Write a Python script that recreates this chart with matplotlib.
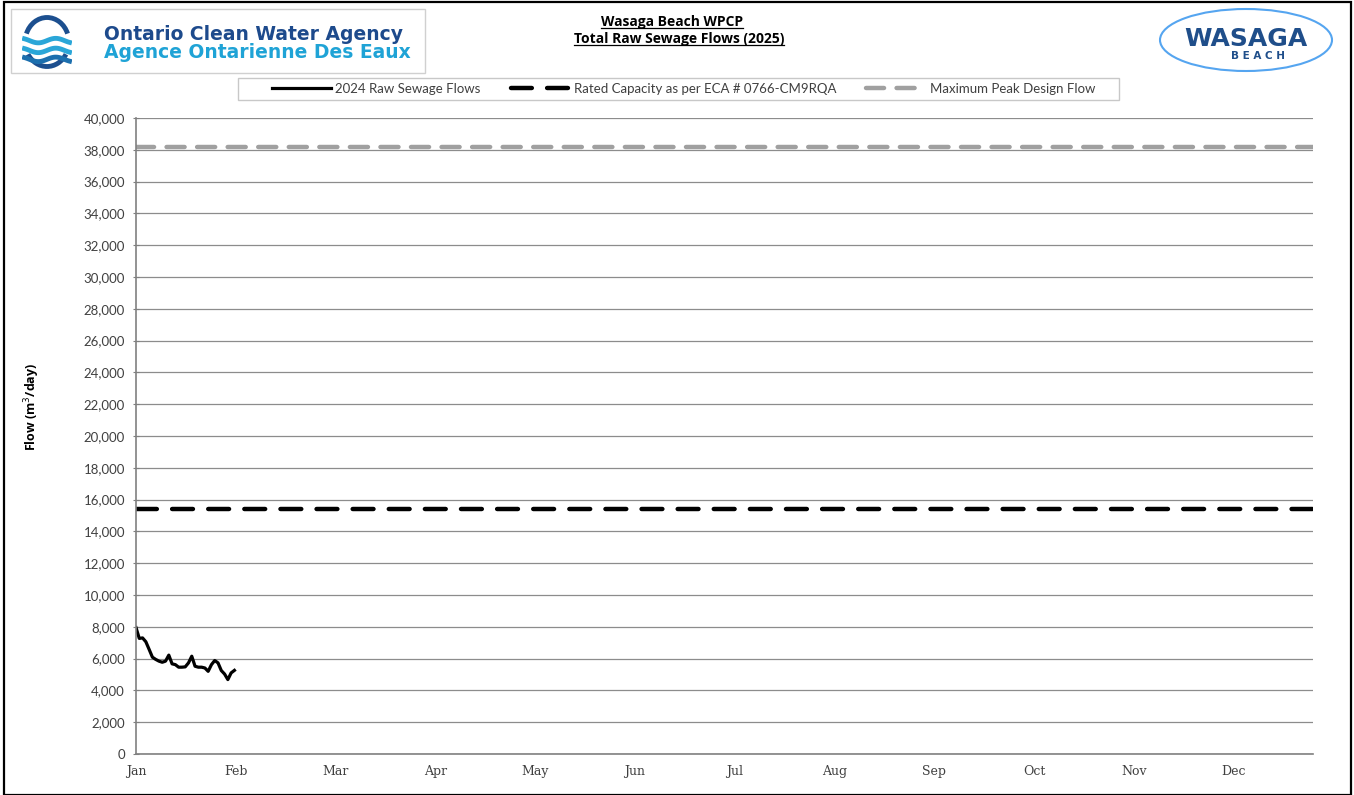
import numpy as np
import matplotlib
matplotlib.use("Agg")
import matplotlib.pyplot as plt
from matplotlib.patches import Rectangle, Ellipse, Arc
from matplotlib.lines import Line2D

# daily raw sewage flows, Jan 1 - Jan 31 (m3/day)
days = list(range(31))
flows = [7950, 7270, 7300, 7060, 6580, 6090, 5950, 5840, 5770, 5840,
         6220, 5670, 5620, 5460, 5460, 5480, 5730, 6150, 5520, 5460,
         5460, 5410, 5200, 5620, 5880, 5730, 5250, 5030, 4680, 5100, 5260]
rated_capacity = 15400
peak_design = 38200
months = ['Jan', 'Feb', 'Mar', 'Apr', 'May', 'Jun',
          'Jul', 'Aug', 'Sep', 'Oct', 'Nov', 'Dec']
month_step = 30.42
x_end = 358.8

plt.rcParams['lines.scale_dashes'] = False
W, H = 1354, 795
fig = plt.figure(figsize=(W / 100, H / 100), dpi=100)


def fx(px):
    return px / W


def fy(py):
    return 1 - py / H


ax = fig.add_axes([fx(136), fy(754), fx(1313) - fx(136), fy(118) - fy(754)])

line_flow, = ax.plot(days, flows, color='black', lw=2.3, solid_joinstyle='round',
                     label='2024 Raw Sewage Flows')
line_rated = ax.axhline(rated_capacity, color='black', lw=3.2, dash_capstyle='round',
                        linestyle=(0, (15, 11)),
                        label='Rated Capacity as per ECA # 0766-CM9RQA')
line_peak = ax.axhline(peak_design, color='#a0a0a0', lw=3.2, dash_capstyle='round',
                       linestyle=(0, (13, 9)),
                       label='Maximum Peak Design Flow')

ax.set_xlim(0, x_end)
ax.set_ylim(0, 40000)
ax.set_yticks(np.arange(0, 40001, 2000))
ax.set_yticklabels(['{:,}'.format(v) for v in range(0, 40001, 2000)],
                   family='Lato', fontsize=9.5, color='#404040')
ax.set_xticks([i * month_step for i in range(12)])
ax.set_xticklabels(months, family='DejaVu Serif', fontsize=9, color='#404040')
ax.tick_params(axis='x', length=0, pad=8)
ax.tick_params(axis='y', length=4, direction='inout', color='#808080', pad=6)
ax.grid(axis='y', color='#8c8c8c', lw=0.9)
ax.set_axisbelow(True)
for s in ['top', 'right']:
    ax.spines[s].set_visible(False)
for s in ['left', 'bottom']:
    ax.spines[s].set_color('#808080')
    ax.spines[s].set_linewidth(1.2)

ax.set_ylabel('Flow (m$^3$/day)', fontsize=9, fontweight='bold', family='Open Sans')
ax.yaxis.set_label_coords(-0.0799, 0.546)

# legend: frame drawn separately, entries spread inside it
fig.patches.append(Rectangle((fx(238), fy(100)), fx(1119) - fx(238), fy(78) - fy(100),
                             transform=fig.transFigure, fill=False, ec='#c8c8c8', lw=1))
leg = fig.legend(handles=[line_flow, line_rated, line_peak], ncol=3,
                 loc='center', mode='expand',
                 bbox_to_anchor=(fx(272), fy(89), fx(1095) - fx(272), 0),
                 frameon=False, handlelength=4.5,
                 prop={'family': 'Lato', 'size': 9.5},
                 borderpad=0, borderaxespad=0, columnspacing=1.0, handletextpad=0.3)
for t in leg.get_texts():
    t.set_color('#404040')

# title with underline
t1 = fig.text(fx(672), fy(22), 'Wasaga Beach WPCP', ha='center', va='center',
              fontsize=10, fontweight='bold', family='Open Sans')
t2 = fig.text(fx(679), fy(39), 'Total Raw Sewage Flows (2025)', ha='center', va='center',
              fontsize=10, fontweight='bold', family='Open Sans')
fig.canvas.draw()
r = fig.canvas.get_renderer()
for t in (t1, t2):
    bb = t.get_window_extent(r).transformed(fig.transFigure.inverted())
    fig.lines.append(Line2D([bb.x0, bb.x1], [bb.y0 + 0.001, bb.y0 + 0.001],
                            transform=fig.transFigure, color='black', lw=0.9))

# outer border
fig.patches.append(Rectangle((fx(4), fy(795)), fx(1351) - fx(4), fy(2) - fy(795),
                             transform=fig.transFigure, fill=False, ec='black', lw=1.6))

# OCWA logo
fig.patches.append(Rectangle((fx(11), fy(73)), fx(425) - fx(11), fy(9) - fy(73),
                             transform=fig.transFigure, fill=False, ec='#d0d0d0', lw=1))
lax = fig.add_axes([fx(22), fy(70), fx(72) - fx(22), fy(14) - fy(70)])
lax.set_xlim(-1, 1)
lax.set_ylim(-1, 1)
lax.axis('off')
lax.add_patch(Arc((0, 0), 1.75, 1.75, theta1=20, theta2=160, color='#1c4f8f', lw=3.5))
lax.add_patch(Arc((0, 0), 1.75, 1.75, theta1=210, theta2=330, color='#1c4f8f', lw=3.5))
wx = np.linspace(-0.9, 0.9, 60)
for off, c in [(0.05, '#2aa6d8'), (-0.3, '#2aa6d8'), (-0.62, '#1c6fae')]:
    lax.plot(wx, off + 0.08 * np.sin(wx * 4.5), color=c, lw=3.5)
fig.text(fx(104), fy(34), 'Ontario Clean Water Agency', fontsize=13.5, fontweight='bold',
         color='#1d4a8c', family='DejaVu Sans', va='center')
fig.text(fx(104), fy(52), 'Agence Ontarienne Des Eaux', fontsize=13.5, fontweight='bold',
         color='#1fa3d6', family='DejaVu Sans', va='center')

# Wasaga Beach logo
fig.patches.append(Ellipse((fx(1246), fy(40)), fx(172), 62 / H,
                           transform=fig.transFigure, fill=False, ec='#55a5f0', lw=1.5))
fig.text(fx(1246), fy(39), 'WASAGA', fontsize=18, fontweight='heavy', color='#1f4e8a',
         ha='center', va='center', family='DejaVu Sans')
fig.text(fx(1258), fy(56), 'B E A C H', fontsize=7.5, fontweight='bold', color='#1f4e8a',
         ha='center', va='center', family='DejaVu Sans')

fig.savefig('out.png', dpi=100)
